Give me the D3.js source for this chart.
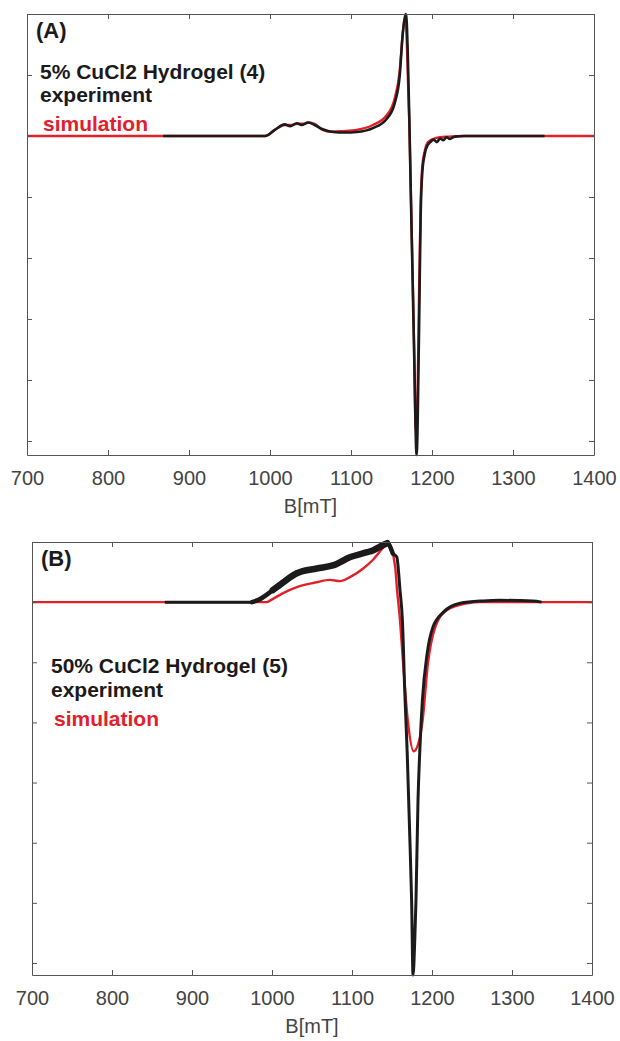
<!DOCTYPE html>
<html>
<head>
<meta charset="utf-8">
<script src="https://cdn.jsdelivr.net/npm/d3@7"></script>
<style>
  body { margin: 0; background: #fff; }
  svg { display: block; font-family: "Liberation Sans", Arial, sans-serif; }
</style>
</head>
<body>
<div id="chart"></div>
<script>
const d = document;

/* Ejes */
const fieldTicks = [700, 800, 900, 1000, 1100, 1200, 1300, 1400];
const xLabel = "B[mT]";

/* Panel A: 5% CuCl2 */
const simA_B = [700, 990, 994, 1006, 1018, 1026, 1034, 1042, 1048, 1056, 1065, 1075, 1090, 1107, 1127, 1144, 1154, 1160, 1164, 1167, 1169, 1172, 1175, 1178, 1180, 1182, 1184, 1186, 1188, 1191, 1195, 1205, 1220, 1240, 1400];
const simA_I = [0, 0, 0, 0.1, 0.18, 0.18, 0.2, 0.2, 0.22, 0.19, 0.1, 0.07, 0.08, 0.1, 0.18, 0.34, 0.62, 1.05, 1.7, 2.0, 1.5, 0.2, -1.6, -3.5, -4.85, -4.4, -2.6, -1.1, -0.5, -0.25, -0.1, -0.03, -0.01, 0, 0];
const expA_B = [868, 990, 994, 1006, 1018, 1025, 1033, 1039, 1047, 1055, 1065, 1078, 1092, 1107, 1127, 1144, 1154, 1160, 1164, 1168, 1170, 1172, 1174, 1176, 1178, 1181, 1184, 1186, 1188, 1191, 1195, 1198, 1202, 1206, 1210, 1214, 1218, 1222, 1228, 1240, 1339];
const expA_I = [0, 0, 0, 0.1, 0.19, 0.16, 0.21, 0.18, 0.22, 0.18, 0.11, 0.066, 0.057, 0.066, 0.13, 0.28, 0.54, 0.97, 1.69, 2.0, 1.4, 0.3, -1.05, -2.3, -3.6, -5.23, -3.2, -1.3, -0.6, -0.3, -0.14, -0.1, -0.06, -0.1, -0.04, -0.07, -0.02, -0.05, -0.01, 0, 0];

/* Panel B: 50% CuCl2 */
const simB_B = [700, 994, 998, 1014, 1031, 1056, 1072, 1085, 1098, 1114, 1126, 1139, 1145, 1154, 1156, 1160, 1163, 1170, 1177, 1184, 1188, 1195, 1204, 1219, 1244, 1260, 1400];
const simB_I = [0, 0, 0.03, 0.15, 0.25, 0.33, 0.37, 0.35, 0.42, 0.56, 0.7, 0.91, 1.0, 0.58, 0.25, -0.3, -0.85, -2.0, -2.48, -2.3, -2.0, -1.01, -0.42, -0.13, -0.02, 0, 0];
const expB_B = [866, 975, 985, 1001, 1014, 1031, 1056, 1076, 1098, 1119, 1126, 1139, 1144, 1151, 1156, 1160, 1163, 1166, 1169, 1172, 1174.5, 1176.3, 1178.5, 1180, 1182.5, 1185, 1188, 1194, 1201, 1214, 1235, 1264, 1285, 1326, 1337];
const expB_I = [0, 0, 0.05, 0.2, 0.33, 0.48, 0.56, 0.61, 0.75, 0.83, 0.86, 0.95, 0.98, 0.81, 0.75, 0.2, -0.3, -1.5, -2.5, -3.8, -4.95, -6.2, -5.6, -4.95, -3.3, -2.4, -1.63, -0.85, -0.42, -0.17, -0.02, 0.02, 0.03, 0.02, 0];

/* Textos */
const panelLabels = ["(A)", "(B)"];
const sampleNames = ["5% CuCl2 Hydrogel (4)", "50% CuCl2 Hydrogel (5)"];
const legendNames = ["experiment", "simulation"];

const width = 620, height = 1041;
const RED = "#e3202a", BLACK = "#1c1a1a", AXIS = "#555";

const svg = d3.select("#chart").append("svg").attr("width", width).attr("height", height);
svg.append("rect").attr("width", width).attr("height", height).attr("fill", "#fff");

const zip = (bs, is) => bs.map((b, i) => ({ b, v: is[i] }));

function panel(cfg) {
  const x = d3.scaleLinear().domain([700, 1400]).range([cfg.left, cfg.right]);
  const y = d3.scaleLinear().domain(cfg.yDomain).range([cfg.bottom, cfg.top]);
  const g = svg.append("g");

  const line = d3.line().x((p) => x(p.b)).y((p) => y(p.v)).curve(d3.curveMonotoneX);

  // curvas
  g.append("path").datum(zip(cfg.simB, cfg.simI))
    .attr("d", line).attr("fill", "none").attr("stroke", RED).attr("stroke-width", 2.4);
  const exp = zip(cfg.expB, cfg.expI);
  g.append("path").datum(exp)
    .attr("d", line).attr("fill", "none").attr("stroke", BLACK).attr("stroke-width", cfg.expWidth)
    .attr("stroke-linejoin", "round");
  // tramo ruidoso mas grueso (solo B)
  (cfg.noisy || []).forEach(([b0, b1, w]) => {
    g.append("path").datum(exp.filter((p) => p.b >= b0 && p.b <= b1))
      .attr("d", line).attr("fill", "none").attr("stroke", BLACK).attr("stroke-width", w)
      .attr("stroke-linecap", "round");
  });

  // ejes con marcas hacia dentro
  const axes = [
    [d3.axisBottom(x).tickValues(fieldTicks).tickFormat(d3.format("d")).tickSize(-5).tickSizeOuter(0).tickPadding(16), `translate(0,${cfg.bottom})`],
    [d3.axisTop(x).tickValues(fieldTicks).tickSize(-5).tickSizeOuter(0).tickFormat(""), `translate(0,${cfg.top})`],
    [d3.axisLeft(y).tickValues(cfg.yTicks).tickSize(-5).tickSizeOuter(0).tickFormat(""), `translate(${cfg.left},0)`],
    [d3.axisRight(y).tickValues(cfg.yTicks).tickSize(-5).tickSizeOuter(0).tickFormat(""), `translate(${cfg.right},0)`],
  ];
  axes.forEach(([ax, tr]) => {
    const a = g.append("g").attr("transform", tr).call(ax);
    a.selectAll("path, line").attr("stroke", AXIS);
    a.selectAll("text").attr("fill", "#444").style("font-size", "20px").style("font-family", "'Liberation Sans', Arial, sans-serif");
  });

  g.append("text").attr("x", (cfg.left + cfg.right) / 2).attr("y", cfg.bottom + 58)
    .attr("text-anchor", "middle").attr("fill", "#444").style("font-size", "20px").text(xLabel);

  g.append("text").attr("x", cfg.left + 9).attr("y", cfg.top + 24)
    .style("font-size", "22px").style("font-weight", "bold").attr("fill", BLACK).text(cfg.label);

  const leg = cfg.legend;
  g.append("text").attr("x", leg.x).attr("y", leg.y[0]).style("font-size", "21px").style("font-weight", "bold")
    .attr("fill", BLACK).text(cfg.name);
  g.append("text").attr("x", leg.x).attr("y", leg.y[1]).style("font-size", "21px").style("font-weight", "bold")
    .attr("fill", BLACK).text(legendNames[0]);
  g.append("text").attr("x", leg.x + 3).attr("y", leg.y[2]).style("font-size", "21px").style("font-weight", "bold")
    .attr("fill", RED).text(legendNames[1]);
}

panel({
  left: 27, right: 594, top: 14, bottom: 455,
  yDomain: [-5.23, 2], yTicks: [-5, -4, -3, -2, -1, 0, 1],
  simB: simA_B, simI: simA_I, expB: expA_B, expI: expA_I, expWidth: 2.6,
  label: panelLabels[0], name: sampleNames[0],
  legend: { x: 40, y: [79, 102, 131] },
});

panel({
  left: 32, right: 592, top: 542, bottom: 975,
  yDomain: [-6.2, 1], yTicks: [-6, -5, -4, -3, -2, -1, 0],
  simB: simB_B, simI: simB_I, expB: expB_B, expI: expB_I, expWidth: 3,
  noisy: [[975, 1151, 4.5], [1001, 1144, 6.5]],
  label: panelLabels[1], name: sampleNames[1],
  legend: { x: 51, y: [673, 697, 726] },
});
</script>
</body>
</html>
